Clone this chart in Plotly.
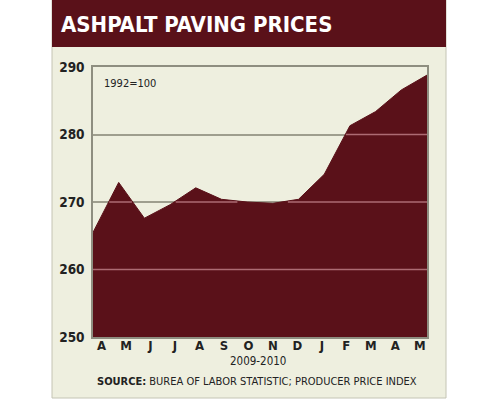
import numpy as np
import plotly.graph_objects as go

# ---- data ----
months = ["A", "M", "J", "J", "A", "S", "O", "N", "D", "J", "F", "M", "A", "M"]
index_values = [265.5, 272.9, 267.6, 269.6, 272.1, 270.4, 270.0, 269.8, 270.4,
                274.1, 281.3, 283.4, 286.6, 288.8]
y_ticks = [250, 260, 270, 280, 290]
grid_levels = [260, 270, 280]

title_text = "ASHPALT PAVING PRICES"
base_note = "1992=100"
period_label = "2009-2010"
source_text = "<b>SOURCE:</b> BUREA OF LABOR STATISTIC; PRODUCER PRICE INDEX"

# ---- styling ----
MAROON = "#5a1119"
CREAM = "#eeefdf"
GRID_GRAY = "#9e9e8e"
GRID_PINK = "#ad6b73"
FONT = "Liberation Sans Narrow, DejaVu Sans Condensed, Arial Narrow, sans-serif"

W, H = 500, 400
L, R, T, B = 93, 427, 67, 337  # plot area in pixels


def px(x):
    return (x - L) / (R - L)


def py(y):
    return (B - y) / (B - T)


x_idx = list(range(len(months)))

fig = go.Figure()

fig.add_trace(go.Scatter(
    x=x_idx, y=index_values, mode="lines", fill="tozeroy",
    line=dict(color=MAROON, width=1), fillcolor=MAROON,
    hoverinfo="skip", showlegend=False,
))

# light gridline overlay where the filled area lies above the level
x_fine = np.linspace(0, len(months) - 1, 2601)
y_fine = np.interp(x_fine, x_idx, index_values)
for lev in grid_levels:
    yl = np.where(y_fine > lev + 0.15, lev, np.nan)
    fig.add_trace(go.Scatter(
        x=x_fine, y=yl, mode="lines", line=dict(color=GRID_PINK, width=1.5),
        hoverinfo="skip", showlegend=False, connectgaps=False,
    ))

shapes = [
    # panel background
    dict(type="rect", xref="paper", yref="paper", x0=px(52), x1=px(446),
         y0=py(398), y1=py(-2), fillcolor=CREAM, line=dict(color="#c4c4b4", width=1),
         layer="below"),
    # header bar
    dict(type="rect", xref="paper", yref="paper", x0=px(52), x1=px(446),
         y0=py(47), y1=py(-2), fillcolor=MAROON, line=dict(width=0), layer="below"),
]

annotations = [
    dict(text=f"<b>{title_text}</b>", xref="paper", yref="paper", x=px(59), y=py(24),
         xanchor="left", yanchor="middle", showarrow=False,
         font=dict(family=FONT, size=22, color="white")),
    dict(text=base_note, xref="paper", yref="paper", x=px(102), y=py(83),
         xanchor="left", yanchor="middle", showarrow=False,
         font=dict(family=FONT, size=11, color="#222222")),
    dict(text=period_label, xref="paper", yref="paper", x=px(258), y=py(361),
         xanchor="center", yanchor="middle", showarrow=False,
         font=dict(family=FONT, size=11.5, color="#222222")),
    dict(text=source_text, xref="paper", yref="paper", x=px(95), y=py(381),
         xanchor="left", yanchor="middle", showarrow=False,
         font=dict(family=FONT, size=11, color="#222222")),
]

fig.update_layout(
    width=W, height=H,
    margin=dict(l=L, r=W - R, t=T, b=H - B, pad=0),
    paper_bgcolor="white", plot_bgcolor=CREAM,
    shapes=shapes, annotations=annotations,
    font=dict(family=FONT, color="#222222"),
    xaxis=dict(
        range=[0, len(months) - 1], tickmode="array",
        tickvals=list(np.linspace(0.33, 12.72, len(months))), ticktext=months,
        showgrid=False, zeroline=False, showline=True, mirror=True,
        linecolor="#8e8e80", linewidth=1.5,
        ticks="", ticklabelstandoff=-4,
        tickfont=dict(family=FONT, size=13, color="#222222", weight="bold"),
        fixedrange=True,
    ),
    yaxis=dict(
        range=[250, 290], tickmode="array", tickvals=y_ticks,
        ticktext=[str(v) for v in y_ticks],
        showgrid=True, gridcolor=GRID_GRAY, gridwidth=1.5, zeroline=False,
        showline=True, mirror=True, linecolor="#8e8e80", linewidth=1.5,
        ticks="outside", ticklen=4, tickcolor="rgba(0,0,0,0)",
        tickfont=dict(family=FONT, size=13.5, color="#222222", weight="bold"),
        fixedrange=True,
    ),
)

fig.write_html(
    "out.html",
    config={"displayModeBar": False},
    post_script="document.body.style.margin='0';document.body.style.overflow='hidden';",
)
